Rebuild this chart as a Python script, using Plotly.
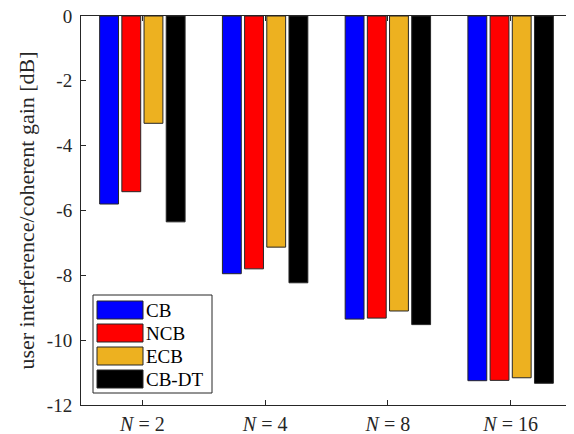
import plotly.graph_objects as go

categories = ["N = 2", "N = 4", "N = 8", "N = 16"]
tick_labels = ["<i>N</i> = 2", "<i>N</i> = 4", "<i>N</i> = 8", "<i>N</i> = 16"]
series_names = ["CB", "NCB", "ECB", "CB-DT"]
cb = [-5.80, -7.95, -9.35, -11.25]
ncb = [-5.42, -7.80, -9.32, -11.24]
ecb = [-3.31, -7.13, -9.10, -11.16]
cbdt = [-6.35, -8.23, -9.52, -11.33]
colors = ["#0000FF", "#FF0000", "#EDB120", "#000000"]
y_ticks = [0, -2, -4, -6, -8, -10, -12]
y_tick_text = ["0", "-2", "-4", "-6", "-8", "-10", "-12"]

FONT = "Liberation Serif, DejaVu Serif, Times New Roman, serif"
OFF = 8  # default body margin of the html page
W, H = 574 - OFF, 434 - OFF
L, R, T, B = 81 - OFF, 572 - OFF, 16 - OFF, 405 - OFF

fig = go.Figure()
for name, vals, col in zip(series_names, [cb, ncb, ecb, cbdt], colors):
    fig.add_trace(go.Bar(
        x=categories, y=vals, name=name,
        marker=dict(color=col, line=dict(color="#262626", width=1)),
        showlegend=False,
    ))

def px2paper(x, y):
    # x, y are page pixel positions
    x -= OFF
    y -= OFF
    return (x - L) / (R - L), (B - y) / (B - T)

shapes = []
annotations = []
x0, y0 = px2paper(93, 393)
x1, y1 = px2paper(212, 295)
shapes.append(dict(type="rect", xref="paper", yref="paper", x0=x0, y0=y0, x1=x1, y1=y1,
                   line=dict(color="#262626", width=1), fillcolor="white", layer="above"))
row_top = 301
pitch = 23
for i, (name, col) in enumerate(zip(series_names, colors)):
    ty = row_top + i * pitch
    sx0, sy0 = px2paper(97, ty + 18)
    sx1, sy1 = px2paper(143, ty)
    shapes.append(dict(type="rect", xref="paper", yref="paper", x0=sx0, y0=sy0, x1=sx1, y1=sy1,
                       line=dict(color="#262626", width=1), fillcolor=col, layer="above"))
    tx, tyc = px2paper(144, ty + 9)
    annotations.append(dict(xref="paper", yref="paper", x=tx, y=tyc, text=name, showarrow=False,
                            xanchor="left", yanchor="middle",
                            font=dict(family=FONT, size=19, color="#000000")))

fig.update_layout(
    width=W, height=H,
    margin=dict(l=L, r=W - R, t=T, b=H - B, pad=0),
    paper_bgcolor="white", plot_bgcolor="white",
    barmode="group", bargap=0.277, bargroupgap=0.15,
    font=dict(family=FONT, size=19, color="#262626"),
    shapes=shapes, annotations=annotations,
)
fig.update_xaxes(
    tickmode="array", tickvals=categories, ticktext=tick_labels,
    showline=True, linecolor="#262626", linewidth=1, mirror="allticks",
    ticks="inside", ticklen=5, tickcolor="#262626",
    showgrid=False, automargin=False, ticklabelstandoff=1,
    ticklabeloverflow="allow",
    tickfont=dict(family=FONT, size=20, color="#262626"),
)
fig.update_yaxes(
    range=[-12, 0], tickmode="array", tickvals=y_ticks, ticktext=y_tick_text,
    showline=True, linecolor="#262626", linewidth=1, mirror="allticks",
    ticks="inside", ticklen=5, tickcolor="#262626",
    showgrid=False, zeroline=False, automargin=False, ticklabelstandoff=4,
    ticklabeloverflow="allow",
    tickfont=dict(family=FONT, size=19, color="#262626"),
    title=dict(text="user interference/coherent gain [dB]",
               font=dict(family=FONT, size=22, color="#262626"), standoff=6),
)

fig.write_html("out.html")
